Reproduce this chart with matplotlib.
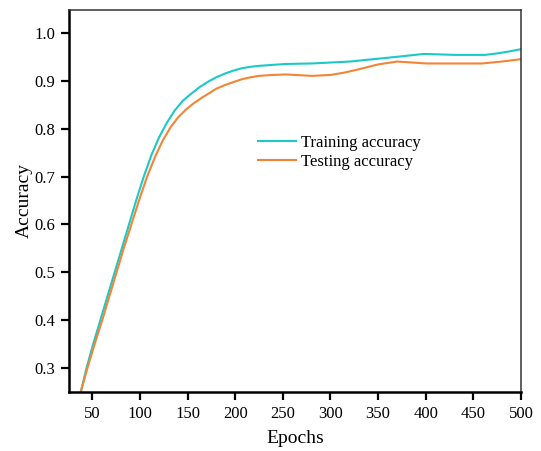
import matplotlib
matplotlib.use("Agg")
import matplotlib.pyplot as plt

plt.rcParams["font.family"] = ["Liberation Serif", "DejaVu Serif"]

# values
train_epochs = [38, 44, 51, 58.5, 66, 73.5, 81, 88.5, 96, 104, 112, 120, 128,
                136.3, 145, 154, 163, 171.7, 180, 189.4, 198, 207, 216, 224.8,
                239, 253, 280, 300, 320, 345, 370, 398, 430, 462, 475, 490, 500]
train_acc = [0.25, 0.30, 0.35, 0.40, 0.45, 0.50, 0.55, 0.60, 0.65, 0.70, 0.745,
             0.782, 0.812, 0.838, 0.859, 0.874, 0.888, 0.899, 0.908, 0.916, 0.922,
             0.927, 0.930, 0.932, 0.934, 0.936, 0.937, 0.939, 0.941, 0.946, 0.951,
             0.957, 0.955, 0.955, 0.958, 0.963, 0.967]

test_epochs = [38, 45, 52.5, 60.5, 68, 75.5, 83, 91, 99, 107.5, 116, 124, 132,
               140, 148, 156, 164, 172, 180, 189.4, 198, 207, 216, 224.8, 239,
               253, 281, 300, 315, 330, 350, 370, 401, 430, 459, 480, 500]
test_acc = [0.25, 0.30, 0.35, 0.40, 0.45, 0.50, 0.55, 0.60, 0.65, 0.70, 0.742,
            0.776, 0.803, 0.824, 0.840, 0.853, 0.864, 0.874, 0.884, 0.892, 0.898,
            0.904, 0.908, 0.911, 0.913, 0.914, 0.911, 0.913, 0.918, 0.925, 0.935,
            0.941, 0.937, 0.937, 0.937, 0.941, 0.946]

x_ticks = [50, 100, 150, 200, 250, 300, 350, 400, 450, 500]
y_ticks = [0.3, 0.4, 0.5, 0.6, 0.7, 0.8, 0.9, 1.0]

fig = plt.figure(figsize=(5.41, 4.51), dpi=100)
ax = fig.add_axes([0.1275, 0.1308, 0.8355, 0.8481])

ax.plot(train_epochs, train_acc, color="#1cc8c8", lw=1.5, label="Training accuracy")
ax.plot(test_epochs, test_acc, color="#f28535", lw=1.5, label="Testing accuracy")

ax.set_xlim(25.5, 500)
ax.set_ylim(0.249, 1.05)
ax.set_xticks(x_ticks)
ax.set_yticks(y_ticks)
ax.set_yticklabels([f"{v:.1f}" for v in y_ticks])

for side in ("left", "bottom"):
    ax.spines[side].set_linewidth(1.8)
    ax.spines[side].set_color("black")
for side in ("top", "right"):
    ax.spines[side].set_linewidth(1.1)
    ax.spines[side].set_color("#333333")

ax.tick_params(axis="both", direction="out", length=6, width=1.6, labelsize=12,
               top=False, right=False, pad=4)

ax.set_xlabel("Epochs", fontsize=14, labelpad=6)
ax.set_ylabel("Accuracy", fontsize=14, labelpad=1)

ax.legend(loc="upper left", bbox_to_anchor=(0.403, 0.69), frameon=False,
          fontsize=12, handlelength=2.3, handletextpad=0.3, labelspacing=0.2,
          borderaxespad=0)

fig.savefig("out.png", dpi=100)
